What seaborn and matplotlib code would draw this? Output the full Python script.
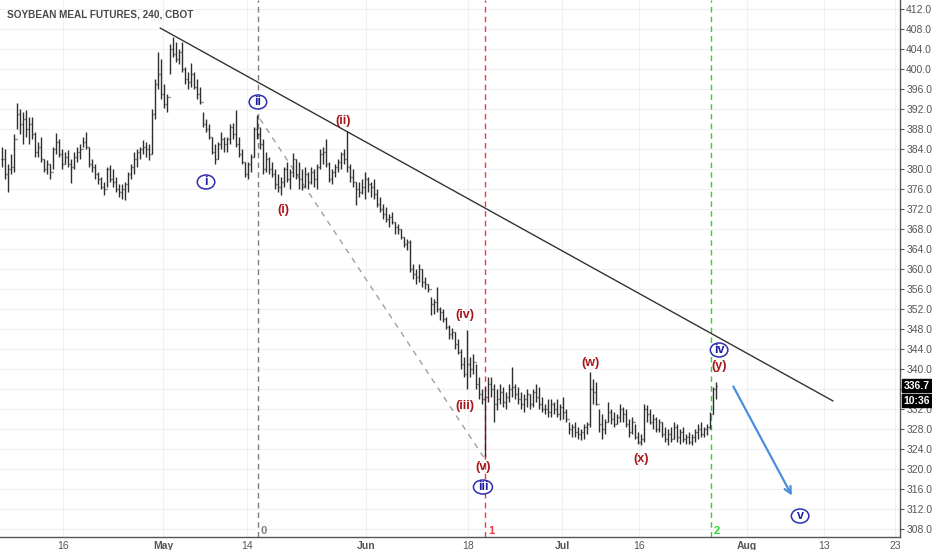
import numpy as np
import matplotlib
matplotlib.use('Agg')
from matplotlib import pyplot as plt
from matplotlib.patches import Ellipse
from matplotlib.transforms import ScaledTranslation
import seaborn as sns

# 4h bars (high / low / close)
highs = [
    384.5, 384, 381, 383, 387, 393.2, 392, 391.5, 391.8, 390.5,
    390.5, 387.5, 385.5, 386.5, 382, 381.8, 381, 384.5, 387.2, 386,
    384, 383.5, 383.8, 382, 383.5, 384.5, 385, 386.5, 387.5, 384.5,
    382, 381, 379.5, 378.5, 377.5, 380.5, 380.8, 380, 378.5, 377,
    377, 377.5, 379.5, 381, 383.5, 384, 384.5, 385.8, 385.5, 385,
    392, 398, 403.5, 402, 397, 395, 405, 406.5, 405.5, 404,
    405.5, 400.5, 399.5, 401.2, 399.5, 398, 396.5, 391.5, 390, 389,
    386.5, 385, 385.5, 387.5, 386.5, 386.5, 389, 389.2, 391.9, 386.5,
    384, 381.5, 381.5, 383, 388.5, 390.9, 388.5, 386, 383.5, 382.5,
    381.5, 380, 379, 378.5, 380.5, 381.5, 380, 383.2, 382, 381.5,
    380, 380.5, 379.5, 380.5, 380, 381, 384, 384.5, 386.1, 381.5,
    380, 381, 382, 383.5, 384, 387.6, 381, 380, 377.5, 377.5,
    378, 379.5, 378.5, 377.5, 378, 376, 374.5, 373, 372.5, 371,
    371.5, 369.5, 369, 368, 366.5, 366, 365.8, 361, 360, 361,
    360, 358.5, 357, 354.5, 354, 356.5, 352.5, 352, 350.5, 348.8,
    348.2, 347.5, 346, 344, 342.5, 347.8, 342.5, 343, 341, 338.5,
    336, 336.5, 338.5, 338.5, 337, 336, 337, 336.5, 335.5, 337,
    340.5, 337, 336.5, 335.5, 335, 336, 335, 336, 337, 336.5,
    334.5, 333, 334, 334, 333.5, 334, 333, 334.5, 332, 329.5,
    329, 329.5, 328.5, 328, 329, 329.5, 339.4, 338, 337.5, 332,
    331, 330, 333.5, 332, 331.5, 331, 333, 332.5, 332, 330,
    330.5, 329, 327.5, 327, 333.1, 332.8, 332, 331, 330.5, 330,
    329.5, 328.5, 328, 328.5, 329.5, 329, 328, 328.5, 327, 327.5,
    327, 328, 329, 329.5, 328.5, 329, 331.5, 336.5, 337.5,
]
lows = [
    380.5, 378, 375.5, 379, 379.5, 388, 387, 385, 386.5, 385,
    386, 382.5, 382.5, 381.5, 379.5, 379, 378, 380, 383, 382.5,
    380, 381, 380.5, 377.3, 380, 381.5, 382, 384.5, 384, 380.5,
    379.5, 378, 377, 376, 374.8, 376.5, 377.5, 376.5, 375.5, 374.5,
    374, 373.8, 375.5, 378, 379, 380.5, 382, 383, 382.5, 381.8,
    383, 390, 396, 394, 392.2, 391.5, 399, 402.5, 401.5, 401,
    399.5, 397, 396, 396.5, 396, 394, 393, 388.5, 387.5, 386,
    383, 381, 382, 384, 383.5, 383.5, 385, 386, 384.5, 382.5,
    381, 378.5, 378, 379.5, 382.5, 386, 384, 379, 379.5, 379,
    378.5, 376, 375.5, 374.9, 376.5, 377.5, 376, 378.5, 378, 376,
    375.8, 376.5, 376, 377, 376.5, 376, 380, 381, 380.5, 377.5,
    377.1, 378.5, 379.5, 380, 381, 379.5, 377.5, 376.5, 372.8, 374.5,
    375, 374, 375.5, 374.5, 374, 372.5, 371.5, 370, 369.5, 368.5,
    369, 367, 367, 366, 364.5, 363.8, 359.5, 358, 357, 357.5,
    356.5, 356, 355.5, 350.8, 351, 351.5, 349.8, 349.5, 348, 346,
    346, 344, 343, 340, 338.5, 336, 338.5, 339, 336, 334,
    333, 322.4, 333.5, 334.5, 329.5, 331.8, 333, 332.5, 332, 333.5,
    334.5, 334, 333, 332, 331.5, 332.5, 332, 332.5, 333.5, 332,
    331.5, 331, 330.5, 330.5, 331, 330.5, 329.8, 330, 329.5, 327,
    326.5, 326.5, 326, 325.8, 326, 327, 328.5, 333, 332.8, 327.5,
    326.1, 327, 329.5, 329, 328.5, 329, 329.5, 329.5, 328.5, 326.5,
    327, 326, 325, 324.8, 325.5, 329.5, 329, 328, 327.5, 327.5,
    326.5, 325.5, 324.8, 325.5, 326, 325.5, 325, 325.5, 325, 325,
    324.8, 325.5, 326, 326.5, 326.5, 326.8, 328, 331, 334,
]
closes = [
    382, 379, 380, 380.5, 386, 391, 389, 390, 388, 389,
    387, 383.5, 384.5, 382, 380, 381, 379.5, 384, 385.5, 383,
    381, 382.5, 381, 380.5, 382.5, 383.5, 384, 385.5, 384.5, 381,
    380.5, 379, 378, 376.5, 376, 380, 378, 377.5, 376, 375.5,
    376, 377, 379, 380.5, 382, 383.5, 384, 384.5, 384, 383,
    391, 397, 399, 395, 393, 394.5, 404, 403, 402, 403.5,
    400, 398, 397.5, 399, 396.5, 395, 393.5, 389, 388, 386.5,
    383.5, 382, 385, 386, 385, 386, 388.5, 387, 385, 383,
    381.5, 379, 381, 382.5, 388, 387, 385, 380, 382, 380,
    379, 377, 376.5, 377.5, 380, 378, 379.5, 382, 379, 378,
    376.5, 379, 377.5, 379.5, 378, 380.5, 383, 383.5, 381, 378,
    379.5, 380.5, 381.5, 383, 382, 380.5, 378.5, 377.5, 376, 375.5,
    376.5, 378, 377, 376.5, 375, 373, 372, 371, 370, 370.5,
    369.5, 368.5, 368, 366.5, 365, 365.5, 360, 359, 358.5, 360,
    357.5, 357, 356, 353, 353.5, 352, 351.5, 350, 348.5, 347,
    347.5, 345, 343.5, 341, 339, 341, 340, 341.5, 337, 335,
    334, 334.5, 337, 336, 333, 334, 335.5, 333.5, 334.5, 336,
    336.5, 335, 334, 333, 334, 335, 333, 335.5, 334.5, 333,
    332, 332, 331.5, 333, 332, 331, 332.5, 331.5, 330, 328,
    328.5, 327.5, 327, 327.5, 328.5, 329, 336, 335.5, 333, 329,
    328, 329.5, 331.5, 330, 329, 330.5, 332, 331, 329, 327.5,
    329.5, 326.5, 325.5, 326, 332, 331, 329.5, 330, 328, 329.5,
    327, 326, 327, 326, 328.5, 326.5, 327.5, 326, 326.5, 325.5,
    326.5, 327.5, 328, 327, 328, 328.5, 331, 336, 336.7,
]

# date ticks (bar index of each label)
tick_bars = [20.3, 53.7, 81.7, 121.3, 155.3, 186.7, 212.3, 248.3, 274, 297.7]
tick_labels = ['16', 'May', '14', 'Jun', '18', 'Jul', '16', 'Aug', '13', '23']

# drawings
trend_x = [52.7, 277]
trend_y = [408.2, 333.6]
channel_x = [86, 160.5]
channel_y = [390.0, 322.4]
arrow_from = (243.3, 337.0)
arrow_to = (263.7, 314.2)

vlines_x = [85.3, 161, 236.3]
vlines_lab = ['0', '1', '2']
vlines_col = ['#7f7f7f', '#f0393e', '#29d629']

red_lab = ['(i)', '(ii)', '(iii)', '(iv)', '(v)', '(w)', '(x)', '(y)']
red_x = [93.7, 113.7, 154.3, 154.3, 160.3, 196.3, 213, 239]
red_y = [371.8, 389.6, 332.6, 350.8, 320.4, 341.2, 322.0, 340.6]

blue_lab = ['i', 'ii', 'iii', 'iv', 'v']
blue_x = [68, 85.3, 160.3, 239, 266]
blue_y = [377.4, 393.4, 316.4, 343.8, 310.6]

last_price = 336.7
countdown = '10:36'

sns.set_style('white')
plt.rcParams['font.family'] = ['Liberation Sans', 'DejaVu Sans']

fig = plt.figure(figsize=(9.32, 5.5), dpi=100)
ax = fig.add_axes([0, 0.0236, 900 / 932, 1 - 0.0236])

idx = np.arange(len(highs))
opens = [closes[0]] + closes[:-1]
bar_col = '#2e2e2e'
ax.vlines(idx, lows, highs, color=bar_col, lw=1.0, zorder=3)
ax.hlines(opens, idx - 0.45, idx, color=bar_col, lw=1.0, zorder=3)
ax.hlines(closes, idx, idx + 0.45, color=bar_col, lw=1.0, zorder=3)

sns.lineplot(x=trend_x, y=trend_y, color='#333333', lw=1.0, ax=ax, zorder=4)
sns.lineplot(x=channel_x, y=channel_y, color='#a0a0a0', lw=1.0,
             linestyle=(0, (4, 4)), ax=ax, zorder=2)
ax.annotate('', xy=arrow_to, xytext=arrow_from,
            arrowprops=dict(arrowstyle='->', color='#4a8ede', lw=1.6,
                            mutation_scale=12), zorder=5)

for x, lab, col in zip(vlines_x, vlines_lab, vlines_col):
    ax.axvline(x, color=col, lw=1.0, linestyle=(0, (4, 3)), zorder=2)
    ax.text(x + 1.0, 307.6, lab, color=col, fontsize=8, fontweight='bold',
            ha='left', va='center')

for lab, x, y in zip(red_lab, red_x, red_y):
    ax.text(x, y, lab, color='#a8161b', fontsize=9, fontweight='bold',
            ha='center', va='center', zorder=6)

for lab, x, y in zip(blue_lab, blue_x, blue_y):
    tr = fig.dpi_scale_trans + ScaledTranslation(x, y, ax.transData)
    w = 0.19 if len(lab) == 3 else 0.175
    ax.add_patch(Ellipse((0, 0), w, 0.14, transform=tr, fc='white',
                         ec='#2d2db4', lw=1.1, zorder=6))
    ax.text(x, y, lab, color='#1d1d9e', fontsize=9, fontweight='bold',
            ha='center', va='center', zorder=7)

ax.set_xlim(-0.67, 299.3)
ax.set_ylim(306.4, 413.8)
ax.yaxis.tick_right()
yt = np.arange(308, 413, 4)
ax.set_yticks(yt)
# the 336.0 label sits under the last-price box
ax.set_yticklabels(['' if v == 336 else f'{v:.1f}' for v in yt])
ax.set_xticks(tick_bars)
ax.set_xticklabels(tick_labels)
ax.tick_params(axis='both', labelsize=7.5, colors='#555555', length=3, width=0.8)
ax.tick_params(axis='y', pad=1.5)
ax.tick_params(axis='x', pad=0.5, length=2.5)
for t in ax.get_xticklabels():
    if not t.get_text().isdigit():
        t.set_fontweight('bold')
ax.grid(True, color='#eef0f5', lw=0.8)
for s in ['top', 'left']:
    ax.spines[s].set_visible(False)
for s in ['right', 'bottom']:
    ax.spines[s].set_color('#555555')
    ax.spines[s].set_linewidth(1.0)

ytr = ax.get_yaxis_transform()
ax.text(1.004, last_price, f'{last_price:.1f}', transform=ytr, color='white',
        fontsize=7.5, fontweight='bold', ha='left', va='center', clip_on=False,
        zorder=8, bbox=dict(boxstyle='square,pad=0.12', fc='black', ec='black'))
ax.text(1.004, last_price - 3.0, countdown, transform=ytr, color='white',
        fontsize=7.5, fontweight='bold', ha='left', va='center', clip_on=False,
        zorder=8, bbox=dict(boxstyle='square,pad=0.12', fc='black', ec='black'))

ax.text(0.0075, 0.982, 'SOYBEAN MEAL FUTURES, 240, CBOT', transform=ax.transAxes,
        color='#4a4a4a', fontsize=7.2, fontweight='bold', ha='left', va='top')

fig.savefig('out.png', dpi=100)
